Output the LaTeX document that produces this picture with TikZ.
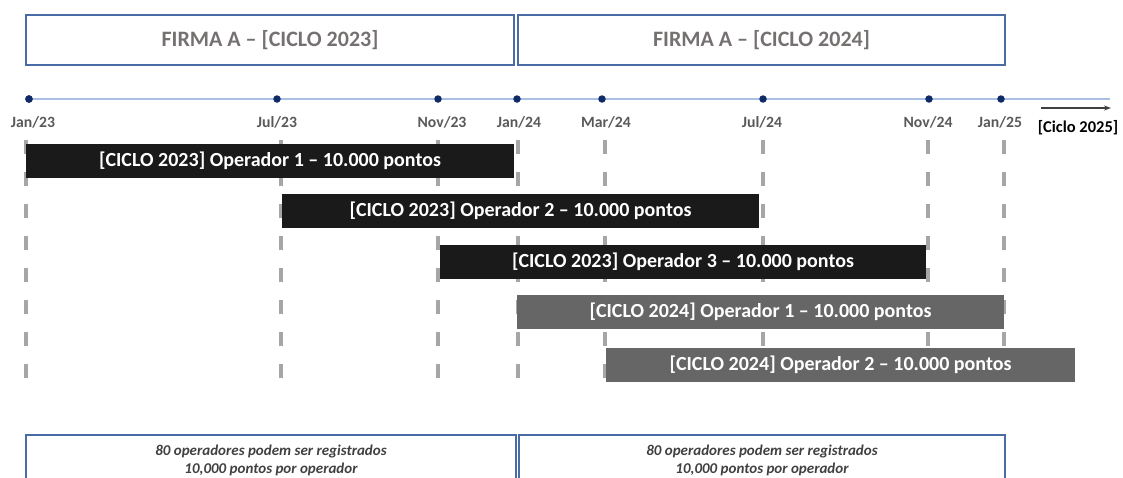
\documentclass[tikz,border=0pt]{standalone}
\usepackage{fontspec}
\setmainfont{Carlito}
\usetikzlibrary{positioning,arrows.meta}

\definecolor{boxblue}{HTML}{4A6BA5}
\definecolor{lineblue}{HTML}{A9C0E4}
\definecolor{dotblue}{HTML}{0F2A66}
\definecolor{titlegray}{HTML}{767171}
\definecolor{labelgray}{HTML}{595959}
\definecolor{dashgray}{HTML}{A6A6A6}
\definecolor{barblack}{HTML}{1A1A1A}
\definecolor{bargray}{HTML}{666666}
\definecolor{notegray}{HTML}{404040}

\begin{document}
\begin{tikzpicture}[x=1pt,y=-1pt,
    cyclebox/.style={draw=boxblue, line width=1.2pt, minimum height=50pt, inner sep=0pt,
        text=titlegray, font=\fontsize{22}{26}\selectfont\bfseries},
    notebox/.style={draw=boxblue, line width=1.2pt, minimum height=50pt, inner sep=0pt,
        text=notegray, align=center, font=\fontsize{15}{18}\selectfont\bfseries\itshape},
    tldot/.style={circle, fill=dotblue, inner sep=0pt, minimum size=7.5pt},
    datelabel/.style={text=labelgray, font=\fontsize{15.7}{18}\selectfont\bfseries},
    opbar/.style={minimum height=34pt, inner sep=0pt, text=white,
        font=\fontsize{20}{24}\selectfont\bfseries},
    oldbar/.style={opbar, fill=barblack},
    newbar/.style={opbar, fill=bargray},
    guide/.style={dashgray, line width=3.5pt, dash pattern=on 14pt off 18pt}
]

    \useasboundingbox (0,0) rectangle (1123,477);
    \clip (0,0) rectangle (1123,477);

    % CYCLE HEADERS
    \node[cyclebox, minimum width=488pt] (cyc23) at (270,40) {FIRMA A -- [CICLO 2023]};
    \node[cyclebox, minimum width=487pt] (cyc24) at (761.5,40) {FIRMA A -- [CICLO 2024]};

    % DASHED GUIDES
    \foreach \gx [count=\i] in {26,281,438,518,605,763,928,1004}{
        \coordinate (gtop\i) at (\gx,140);
        \coordinate (gbot\i) at (\gx,380);
        \draw[guide] (gtop\i) -- (gbot\i);
    }

    % TIMELINE
    \coordinate (tlend) at (1110,99);
    \node[tldot] (d1) at (29,99) {};
    \draw[lineblue, line width=1.2pt] (d1) -- (tlend);
    \foreach \dx/\lx/\mon/\yr [count=\i] in {29/33/Jan/23,277/277/Jul/23,438/442/Nov/23,
        517/519/Jan/24,602/606/Mar/24,763/762/Jul/24,929/928/Nov/24,1001/1000/Jan/25}{
        \node[tldot] (dot\i) at (\dx,99) {};
        \node[datelabel] (lab\i) at (\lx,122) {\mon/\yr};
    }

    % NEXT CYCLE ARROW
    \coordinate (nxtA) at (1041,108);
    \coordinate (nxtB) at (1111,108);
    \draw[notegray, line width=1.5pt, -{Stealth[length=7pt,width=5pt]}] (nxtA) -- (nxtB);
    \node[font=\fontsize{16.5}{20}\selectfont\bfseries] (nxt) at (1078,128) {[Ciclo 2025]};

    % OPERATOR BARS
    \node[oldbar, minimum width=488pt] (op231) at (270,161) {[CICLO 2023] Operador 1 -- 10.000 pontos};
    \node[oldbar, minimum width=477pt] (op232) at (520.5,211) {[CICLO 2023] Operador 2 -- 10.000 pontos};
    \node[oldbar, minimum width=486pt] (op233) at (683,262) {[CICLO 2023] Operador 3 -- 10.000 pontos};
    \node[newbar, minimum width=487pt] (op241) at (760.5,312) {[CICLO 2024] Operador 1 -- 10.000 pontos};
    \node[newbar, minimum width=469pt] (op242) at (840.5,364.5) {[CICLO 2024] Operador 2 -- 10.000 pontos};

    % NOTES
    \node[notebox, minimum width=490pt] (note23) at (271,460)
        {80 operadores podem ser registrados\\10,000 pontos por operador};
    \node[notebox, minimum width=486pt] (note24) at (762,460)
        {80 operadores podem ser registrados\\10,000 pontos por operador};

\end{tikzpicture}
\end{document}
